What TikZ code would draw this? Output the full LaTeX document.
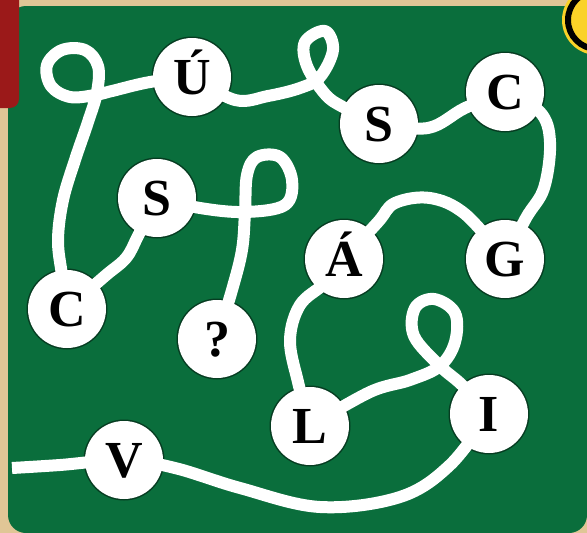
\documentclass[tikz,border=0pt]{standalone}
\usepackage{fontspec}
\setmainfont{Liberation Serif}
\pgfdeclarelayer{bgl}\pgfdeclarelayer{ringl}\pgfdeclarelayer{strl}
\pgfsetlayers{bgl,ringl,strl,main}
\definecolor{boardgreen}{RGB}{10,110,60}
\definecolor{frametan}{RGB}{224,198,150}
\definecolor{tabred}{RGB}{155,25,25}
\definecolor{badge}{RGB}{250,210,40}
\tikzset{
  ball/.style={circle, fill=white, minimum size=78pt, inner sep=0pt,
    text height=35pt, text depth=0pt, font=\fontsize{52}{52}\selectfont\bfseries},
  strand/.style={draw=white, line width=12pt, line cap=round, line join=round},
  ringfill/.style={fill=black!45!boardgreen}
}
\begin{document}
\begin{tikzpicture}[x=1pt,y=-1pt]
\useasboundingbox (0,0) rectangle (587,533);
% balls
\node[ball] (U)  at (192,77)  {Ú};
\node[ball] (S1) at (379,124) {S};
\node[ball] (C1) at (505,92)  {C};
\node[ball] (S2) at (157,198) {S};
\node[ball] (C2) at (67,309)  {C};
\node[ball] (Q)  at (217,339) {?};
\node[ball] (A)  at (344,259) {Á};
\node[ball] (G)  at (505,259) {G};
\node[ball] (L)  at (310,426) {L};
\node[ball] (I)  at (489,414) {I};
\node[ball] (V)  at (124,460) {V};
\coordinate (start) at (12,468);
\begin{pgfonlayer}{bgl}
  \fill[frametan] (0,0) rectangle (587,533);
  \fill[boardgreen, rounded corners=18pt] (8,6) rectangle (587,533);
  \fill[tabred, rounded corners=9pt] (-20,-20) rectangle (19,108);
  \fill[badge] (597,20) circle (35pt);
  \draw[black, line width=6pt] (597,20) circle (29pt);
\end{pgfonlayer}
\begin{pgfonlayer}{ringl}
  \foreach \n in {U,S1,C1,S2,C2,Q,A,G,L,I,V} \fill[ringfill] (\n) circle (40.5pt);
\end{pgfonlayer}
\begin{pgfonlayer}{strl}
  % left edge -> V -> I
  \draw[strand, line cap=butt] plot[smooth, tension=0.6] coordinates {(start) (60,465) (V) (175,468) (240,488) (320,507) (400,497) (450,465) (I)};
  % I -> loop -> L
  \draw[strand] plot[smooth, tension=0.6] coordinates {(I) (462,385) (440,366) (414,336) (415,308) (434,299) (455,313) (455,342) (440,366) (410,380) (370,392) (L)};
  % L -> A
  \draw[strand] plot[smooth, tension=0.6] coordinates {(L) (298,382) (290,340) (300,305) (325,283) (A)};
  % A -> G
  \draw[strand] plot[smooth, tension=0.6] coordinates {(A) (378,222) (395,203) (430,198) (465,214) (G)};
  % G -> C1
  \draw[strand] plot[smooth, tension=0.6] coordinates {(G) (526,218) (544,188) (550,142) (540,112) (C1)};
  % C1 -> S1
  \draw[strand] plot[smooth, tension=0.6] coordinates {(C1) (465,108) (428,128) (S1)};
  % S1 -> loop -> U
  \draw[strand] plot[smooth, tension=0.6] coordinates {(S1) (343,107) (325,94) (307,66) (305,42) (325,31) (333,50) (320,77) (300,88) (268,96) (235,100) (U)};
  % U -> loop -> C2
  \draw[strand] plot[smooth, tension=0.6] coordinates {(U) (150,82) (112,91) (95,95) (70,97) (51,86) (47,65) (62,50) (85,50) (98,66) (97,92) (88,122) (75,160) (63,200) (58,240) (62,275) (C2)};
  % C2 -> S2
  \draw[strand] plot[smooth, tension=0.6] coordinates {(C2) (105,276) (126,258) (138,236) (S2)};
  % S2 -> loop -> ?
  \draw[strand] plot[smooth, tension=0.6] coordinates {(S2) (200,208) (245,212) (285,205) (292,180) (280,157) (257,157) (247,175) (245,212) (242,250) (232,290) (Q)};
\end{pgfonlayer}
\end{tikzpicture}
\end{document}
